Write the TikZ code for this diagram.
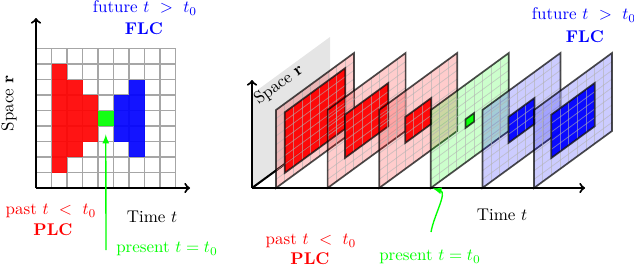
\documentclass[tikz,border=0pt]{standalone}
\usepackage{amsmath,amssymb,amsfonts,bm}
\usepackage{tikz}
\usetikzlibrary{positioning}
\tikzset{
    axis/.style={very thick,->},
    cellgrid/.style={draw=gray!70,line width=0.6pt},
    slicegrid/.style={draw=gray!60,opacity=0.6,line width=0.45pt},
    sliceedge/.style={draw=black,draw opacity=0.7,line width=1pt},
    nowarrow/.style={green,thick,-latex}
}
% one time slice: #1 = x position, #2 = colour, #3 = half width of the cone
\newcommand{\DrawSlice}[3]{%
    \begin{scope}[shift={(#1,76)}, yslant=0.7308, x=5.113pt, y=5.113pt]
        \fill[#2, fill opacity=0.2] (0,0) rectangle (9,9);
        \fill[#2, fill opacity=0.95] (4-#3,4-#3) rectangle (5+#3,5+#3);
        \foreach \k in {1,...,8} {
            \draw[slicegrid] (\k,0) -- (\k,9);
            \draw[slicegrid] (0,\k) -- (9,\k);
        }
        \draw[sliceedge] (4-#3,4-#3) rectangle (5+#3,5+#3);
        \draw[sliceedge] (0,0) rectangle (9,9);
    \end{scope}%
}

\begin{document}
\begin{tikzpicture}[x=0.59pt, y=0.59pt]
    \useasboundingbox (0,0) rectangle (634,264);

    % ---- left: space-time grid ----
    \coordinate (O1) at (36,76);        % origin
    \coordinate (S1) at (36,246);       % space axis end
    \coordinate (T1) at (190,76);       % time axis end
    \coordinate (p1) at (106,14);       % start of present arrow

    \begin{scope}[shift={(36,76)}, x=9.145pt, y=9.145pt]
        \foreach \k in {0,...,9} {
            \draw[cellgrid] (\k,0) -- (\k,9);
            \draw[cellgrid] (0,\k) -- (9,\k);
        }
        \foreach \c/\w/\col in {1/3/red,2/2/red,3/1/red,4/0/green,5/1/blue,6/2/blue}
            \fill[\col, fill opacity=0.92] (\c,4-\w) rectangle (\c+1,5+\w);
        \coordinate (now1) at (4.5,4);  % bottom of present cell
    \end{scope}

    \draw[axis] (O1) -- (S1);
    \draw[axis] (O1) -- (T1);
    \draw[nowarrow, shorten >=5pt] (p1) -- (now1);

    \node[blue] (fut1) at (145,256) {future $t\ >\ t_0$};
    \node[blue, font=\bfseries] (flc1) at (144,235) {FLC};
    \node[rotate=90] (sp1) at (9,161) {Space $\mathbf{r}$};
    \node[red] (past1) at (51,53) {past $t\ <\ t_0$};
    \node[red, font=\bfseries] (plc1) at (53,34) {PLC};
    \node (time1) at (152,47) {Time $t$};
    \node[green] (pres1) at (167,15) {present $t=t_0$};

    % ---- right: stack of space slices ----
    \coordinate (O2) at (252,76);       % origin
    \coordinate (S2) at (252,184);      % space axis end
    \coordinate (D2) at (330,133);      % depth axis end
    \coordinate (T2) at (585,76);       % time axis end
    \coordinate (p2) at (431,32);       % start of present arrow
    \coordinate (now2) at (431,76);     % foot of present slice

    \fill[gray!20] (O2) -- (252,170) -- (330,227) -- (D2) -- cycle;
    \draw[very thick] (O2) -- (D2);
    \draw[axis] (O2) -- (S2);

    \foreach \n/\col/\w in {0/red/3,1/red/2,2/red/1,3/green/0,4/blue/1,5/blue/2} {
        \DrawSlice{276+51.6*\n}{\col}{\w}
    }

    \draw[axis] (O2) -- (T2);
    \draw[nowarrow, shorten >=1pt] (p2) to[out=80, in=-15] (now2);

    \node[rotate=36] (sp2) at (279,179) {Space $\mathbf{r}$};
    \node (time2) at (502,49) {Time $t$};
    \node[blue] (fut2) at (584,249) {future $t\ >\ t_0$};
    \node[blue, font=\bfseries] (flc2) at (585,227) {FLC};
    \node[red] (past2) at (311,23) {past $t\ <\ t_0$};
    \node[red, font=\bfseries] (plc2) at (310,5) {PLC};
    \node[green] (pres2) at (430,7) {present $t=t_0$};
\end{tikzpicture}
\end{document}
